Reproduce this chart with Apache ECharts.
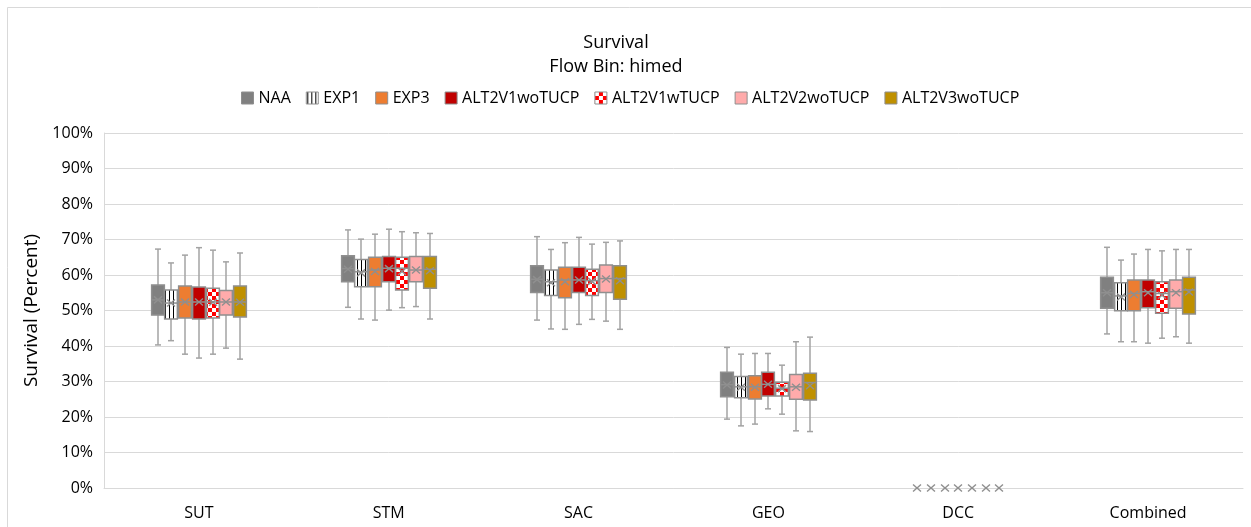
<!DOCTYPE html>
<html>
<head>
<meta charset="utf-8">
<title>Survival - Flow Bin: himed</title>
<script src="https://cdn.jsdelivr.net/npm/echarts@6/dist/echarts.min.js"></script>
<style>
  html, body { margin: 0; padding: 0; background: #fff; }
  #chart { width: 1251px; height: 527px; }
</style>
</head>
<body>
<div id="chart"></div>
<script>
// categories on the x axis
var categories = ["SUT", "STM", "SAC", "GEO", "DCC", "Combined"];
var yTicks = [0, 10, 20, 30, 40, 50, 60, 70, 80, 90, 100];

// each row: [min, q1, median, q3, max, mean] in percent, one row per category
var naa = [
  [40.3, 48.7, 53.0, 57.2, 67.3, 53.0],
  [50.9, 58.1, 61.8, 65.4, 72.7, 61.6],
  [47.3, 55.1, 58.8, 62.6, 70.8, 58.7],
  [19.4, 25.7, 29.1, 32.6, 39.6, 29.0],
  [0, 0, 0, 0, 0, 0],
  [43.4, 50.6, 55.0, 59.4, 67.8, 55.0]
];
var exp1 = [
  [41.5, 47.6, 52.1, 55.8, 63.4, 52.1],
  [47.6, 56.7, 60.9, 64.4, 70.1, 60.6],
  [44.8, 54.2, 58.1, 61.4, 67.2, 57.8],
  [17.5, 25.4, 28.5, 31.4, 37.7, 28.4],
  [0, 0, 0, 0, 0, 0],
  [41.2, 49.9, 54.1, 57.8, 64.2, 53.8]
];
var exp3 = [
  [37.7, 47.9, 52.4, 56.9, 65.6, 52.4],
  [47.3, 56.7, 61.4, 65.0, 71.5, 61.0],
  [44.7, 53.6, 58.6, 62.2, 69.1, 58.1],
  [18.0, 25.1, 28.5, 31.6, 37.9, 28.4],
  [0, 0, 0, 0, 0, 0],
  [41.2, 49.9, 54.8, 58.6, 65.9, 54.5]
];
var alt2v1wo = [
  [36.6, 47.6, 52.4, 56.6, 67.7, 52.4],
  [50.1, 58.1, 61.9, 65.2, 72.9, 61.8],
  [46.1, 55.1, 58.6, 62.2, 70.6, 58.6],
  [22.3, 25.9, 29.2, 32.6, 37.9, 29.2],
  [0, 0, 0, 0, 0, 0],
  [40.8, 50.8, 55.3, 58.6, 67.2, 55.0]
];
var alt2v1w = [
  [37.7, 47.9, 52.4, 56.3, 67.0, 52.3],
  [50.8, 55.8, 61.9, 65.0, 72.2, 61.0],
  [47.5, 54.2, 58.4, 61.6, 68.7, 58.2],
  [20.8, 25.9, 28.1, 29.8, 34.6, 28.0],
  [0, 0, 0, 0, 0, 0],
  [42.2, 49.2, 54.8, 58.1, 66.8, 54.3]
];
var alt2v2wo = [
  [39.4, 48.7, 52.4, 55.6, 63.7, 52.4],
  [51.1, 58.1, 61.4, 65.2, 71.9, 61.4],
  [47.0, 55.1, 59.0, 62.8, 69.2, 58.9],
  [16.1, 25.0, 28.5, 32.0, 41.2, 28.4],
  [0, 0, 0, 0, 0, 0],
  [42.6, 50.6, 55.3, 58.6, 67.2, 55.0]
];
var alt2v3wo = [
  [36.3, 48.2, 52.4, 56.9, 66.2, 52.3],
  [47.6, 56.3, 61.6, 65.2, 71.7, 61.2],
  [44.7, 53.2, 59.0, 62.6, 69.6, 58.4],
  [15.9, 24.8, 29.7, 32.3, 42.5, 28.8],
  [0, 0, 0, 0, 0, 0],
  [40.8, 49.0, 55.8, 59.4, 67.2, 55.2]
];

// fill patterns
function stripePattern() {
  var c = document.createElement("canvas");
  c.width = 4; c.height = 4;
  var g = c.getContext("2d");
  g.fillStyle = "#ffffff"; g.fillRect(0, 0, 4, 4);
  g.fillStyle = "#000000"; g.fillRect(1, 0, 1, 4);
  return { image: c, repeat: "repeat" };
}
function checkerPattern() {
  var c = document.createElement("canvas");
  c.width = 8; c.height = 8;
  var g = c.getContext("2d");
  g.fillStyle = "#ff0000"; g.fillRect(0, 0, 8, 8);
  g.fillStyle = "#ffffff"; g.fillRect(0, 0, 4, 4); g.fillRect(4, 4, 4, 4);
  return { image: c, repeat: "repeat" };
}

var lineGray = "#a3a3a3";
var borderGray = "#8f8f8f";

var seriesDefs = [
  { name: "NAA", data: naa, fill: "#808080" },
  { name: "EXP1", data: exp1, fill: stripePattern() },
  { name: "EXP3", data: exp3, fill: "#ed7d31" },
  { name: "ALT2V1woTUCP", data: alt2v1wo, fill: "#c00000" },
  { name: "ALT2V1wTUCP", data: alt2v1w, fill: checkerPattern() },
  { name: "ALT2V2woTUCP", data: alt2v2wo, fill: "#ffabab" },
  { name: "ALT2V3woTUCP", data: alt2v3wo, fill: "#bf9000" }
];

function makeRender(k, fill) {
  return function (params, api) {
    var cat = api.value(0);
    var bw = api.size([1, 0])[0];
    var step = bw * 0.0724;
    var boxW = bw * 0.067;
    var cx = Math.round(api.coord([cat, 0])[0] + (k - 3) * step);
    function py(i) { return api.coord([cat, api.value(i)])[1]; }
    var yMin = py(1), yQ1 = py(2), yMed = py(3), yQ3 = py(4), yMax = py(5), yMean = py(6);
    var x0 = cx - boxW / 2, x1 = cx + boxW / 2;
    var cap = 3;
    var wStyle = { stroke: lineGray, lineWidth: 1.5 };
    var kids = [];
    if (yQ1 - yMin < -0.5) {
      kids.push({ type: "line", shape: { x1: cx, y1: yQ1, x2: cx, y2: yMin }, style: wStyle });
      kids.push({ type: "line", shape: { x1: cx - cap, y1: yMin, x2: cx + cap, y2: yMin }, style: wStyle });
    }
    if (yMax - yQ3 < -0.5) {
      kids.push({ type: "line", shape: { x1: cx, y1: yQ3, x2: cx, y2: yMax }, style: wStyle });
      kids.push({ type: "line", shape: { x1: cx - cap, y1: yMax, x2: cx + cap, y2: yMax }, style: wStyle });
    }
    if (yQ1 - yQ3 > 0.5) {
      kids.push({ type: "rect", shape: { x: x0, y: yQ3, width: boxW, height: yQ1 - yQ3 },
        style: { fill: fill, stroke: borderGray, lineWidth: 1.5 } });
      kids.push({ type: "line", shape: { x1: x0, y1: yMed, x2: x1, y2: yMed },
        style: { stroke: borderGray, lineWidth: 1.5 } });
    }
    var mx = 4, my = 3.5;
    kids.push({ type: "polyline", shape: { points: [[cx - mx, yMean - my], [cx + mx, yMean + my]] },
      style: { stroke: borderGray, lineWidth: 1.4, fill: null } });
    kids.push({ type: "polyline", shape: { points: [[cx - mx, yMean + my], [cx + mx, yMean - my]] },
      style: { stroke: borderGray, lineWidth: 1.4, fill: null } });
    return { type: "group", children: kids };
  };
}

var series = seriesDefs.map(function (s, k) {
  return {
    name: s.name,
    type: "custom",
    renderItem: makeRender(k, s.fill),
    itemStyle: { color: s.fill, borderColor: borderGray, borderWidth: 1 },
    encode: { x: 0, y: [1, 2, 3, 4, 5, 6] },
    data: s.data.map(function (row, i) { return [i].concat(row); }),
    z: 3
  };
});

var fontFamily = "'Open Sans', 'Noto Sans', sans-serif";

var chart = echarts.init(document.getElementById("chart"));
var option = {
  backgroundColor: "#fff",
  textStyle: { fontFamily: fontFamily },
  animation: false,
  title: [
    { text: "Survival", left: 611, top: 29, textAlign: "center",
      textStyle: { fontSize: 18, fontWeight: "normal", color: "#000", fontFamily: fontFamily } },
    { text: "Flow Bin: himed", left: 611, top: 53, textAlign: "center",
      textStyle: { fontSize: 18, fontWeight: "normal", color: "#000", fontFamily: fontFamily } }
  ],
  legend: {
    left: 236,
    top: 85,
    itemWidth: 12,
    itemHeight: 12,
    itemGap: 15,
    icon: "rect",
    textStyle: { fontSize: 16, color: "#000", fontFamily: fontFamily },
    data: seriesDefs.map(function (s) {
      return { name: s.name, itemStyle: { color: s.fill, borderColor: borderGray, borderWidth: 1 } };
    })
  },
  graphic: [{
    type: "rect",
    shape: { x: 7.5, y: 7.5, width: 1300, height: 600 },
    style: { fill: null, stroke: "#d9d9d9", lineWidth: 1 },
    silent: true
  }],
  grid: { left: 104, right: 8, top: 133, bottom: 39 },
  xAxis: {
    type: "category",
    data: categories,
    axisLine: { show: true, lineStyle: { color: "#d9d9d9" } },
    axisTick: { show: false },
    axisLabel: { fontSize: 16, color: "#000", margin: 17, fontFamily: fontFamily },
    splitLine: { show: false }
  },
  yAxis: {
    type: "value",
    min: yTicks[0],
    max: yTicks[yTicks.length - 1],
    interval: yTicks[1] - yTicks[0],
    name: "Survival (Percent)",
    nameLocation: "middle",
    nameRotate: 90,
    nameGap: 61,
    nameTextStyle: { fontSize: 19, color: "#000", fontFamily: fontFamily },
    axisLine: { show: true, lineStyle: { color: "#d9d9d9" } },
    axisTick: { show: false },
    axisLabel: { fontSize: 16, color: "#000", margin: 11, formatter: "{value}%", fontFamily: fontFamily },
    splitLine: { show: true, lineStyle: { color: "#d9d9d9", width: 1 } }
  },
  series: series
};
chart.setOption(option);
</script>
</body>
</html>
